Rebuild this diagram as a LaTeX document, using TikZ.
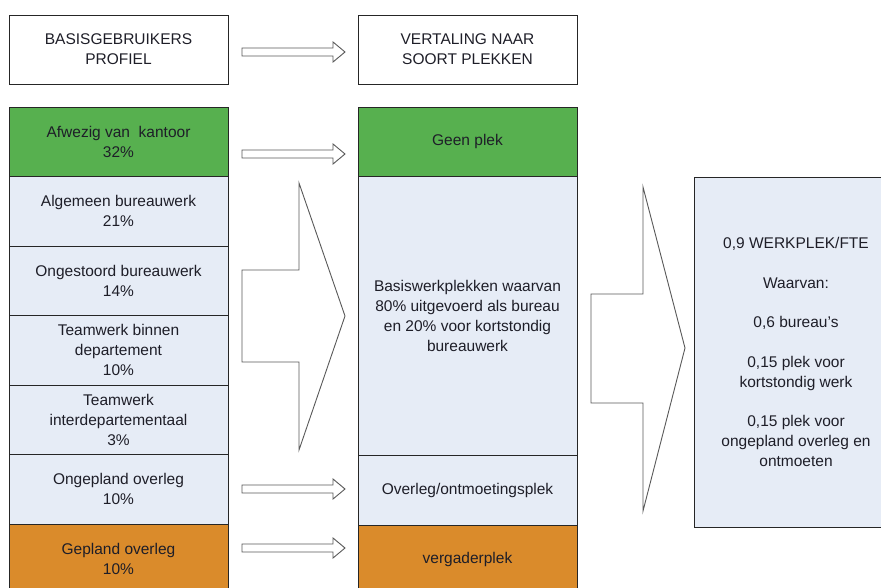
\documentclass[tikz,border=0pt]{standalone}
\usepackage{fontspec}
\setmainfont{Liberation Sans}
\usetikzlibrary{positioning}
\definecolor{groen}{RGB}{87,176,79}
\definecolor{lichtblauw}{RGB}{230,236,246}
\definecolor{oranje}{RGB}{218,139,43}
\definecolor{tekst}{RGB}{30,30,40}

\begin{document}
\begin{tikzpicture}[x=1pt, y=-1pt, node distance=0pt,
		cel/.style = {draw=black!85, line width=0.9pt, minimum width=219pt, minimum height=69.5pt, align=center, inner sep=0pt, outer sep=0pt, text=tekst, font=\fontsize{15.5}{20}\selectfont, anchor=north west},
		kop/.style = {cel, fill=white, minimum height=69pt},
		groenvak/.style = {cel, fill=groen},
		blauwvak/.style = {cel, fill=lichtblauw},
		oranjevak/.style = {cel, fill=oranje},
		blokpijl/.style = {draw=black!65, line width=0.9pt, fill=white},
		pijltje/.pic = {\draw[blokpijl] (0,-4) -- (91,-4) -- (91,-10) -- (103,0) -- (91,10) -- (91,4) -- (0,4) -- cycle;}]

		\useasboundingbox (0,0) rectangle (881,588);
		\clip (0,0) rectangle (881,588);

		% koppen
		\node[kop] (profiel) at (9,15) {BASISGEBRUIKERS\\PROFIEL};
		\node[kop] (vertaling) at (358,15) {VERTALING NAAR\\SOORT PLEKKEN};

		% gebruikersprofiel
		\node[groenvak] (afwezig) at (9,107) {Afwezig van\ \ kantoor\\32\%};
		\node[blauwvak, below=of afwezig] (algemeen) {Algemeen bureauwerk\\21\%};
		\node[blauwvak, below=of algemeen] (ongestoord) {Ongestoord bureauwerk\\14\%};
		\node[blauwvak, below=of ongestoord] (binnen) {Teamwerk binnen\\departement\\10\%};
		\node[blauwvak, below=of binnen] (inter) {Teamwerk\\interdepartementaal\\3\%};
		\node[blauwvak, below=of inter] (ongepland) {Ongepland overleg\\10\%};
		\node[oranjevak, below=of ongepland] (gepland) {Gepland overleg\\10\%};

		% soort plekken
		\node[groenvak] (geenplek) at (358,107) {Geen plek};
		\node[blauwvak, below=of geenplek, minimum height=279pt] (basis) {Basiswerkplekken waarvan\\80\% uitgevoerd als bureau\\en 20\% voor kortstondig\\bureauwerk};
		\node[blauwvak, below=of basis] (overleg) {Overleg/ontmoetingsplek};
		\node[oranjevak, below=of overleg] (vergader) {vergaderplek};

		% norm
		\node[blauwvak, minimum width=204pt, minimum height=350pt] (norm) at (694,177) {0,9 WERKPLEK/FTE\\[19.5pt]Waarvan:\\[19.5pt]0,6 bureau's\\[19.5pt]0,15 plek voor\\kortstondig werk\\[19.5pt]0,15 plek voor\\ongepland overleg en\\ontmoeten};

		% pijlen
		\pic at (242,52) {pijltje};
		\pic at (242,154) {pijltje};
		\pic at (242,489) {pijltje};
		\pic at (242,548) {pijltje};
		\draw[blokpijl] (242,270) -- (299,270) -- (299,183) -- (345,316) -- (299,450) -- (299,362) -- (242,362) -- cycle;
		\draw[blokpijl] (591,294) -- (643,294) -- (643,187) -- (685,348) -- (643,511) -- (643,403) -- (591,403) -- cycle;
	\end{tikzpicture}
\end{document}
